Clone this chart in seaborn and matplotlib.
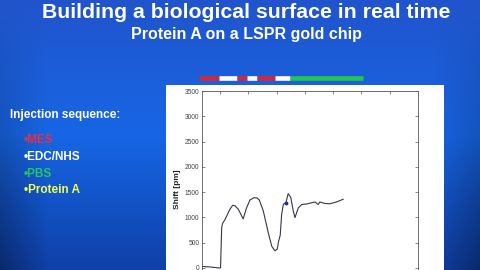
import numpy as np
import pandas as pd
import matplotlib
matplotlib.use("Agg")
import matplotlib.pyplot as plt
import seaborn as sns
from matplotlib.patches import Rectangle

# ---- data ----
time_min = [3.75, 6.5, 9.8, 10.2, 10.6, 10.9, 11.8, 13.5, 14.5, 15.3, 16.5, 17.4, 18.2,
            19.4, 20.6, 22.0, 23.1, 23.9, 25.3, 27.1, 28.3, 29.4, 30.25, 30.7, 31.3,
            31.8, 32.4, 33.3, 34.1, 35.0, 35.9, 36.5, 37.7, 38.9, 40.6, 42.4, 43.6,
            44.7, 45.3, 47.1, 48.9, 51.2, 53.6]
shift_pm = [30, 20, 0, 5, 800, 880, 960, 1160, 1240, 1230, 1160, 1060, 970,
            1190, 1345, 1390, 1385, 1345, 1130, 690, 430, 340, 375, 520, 650,
            1060, 1260, 1290, 1470, 1400, 1130, 995, 1190, 1255, 1265, 1290, 1305,
            1255, 1305, 1275, 1270, 1305, 1360]
y_ticks = [0, 500, 1000, 1500, 2000, 2500, 3000, 3500]
x_ticks = [10, 20, 30, 40, 50, 60, 70]

# injection sequence bar (time segments)
seg_start = [2.7, 9.8, 16.1, 19.4, 23.0, 29.4, 34.7]
seg_end = [9.8, 16.1, 19.4, 23.0, 29.4, 34.7, 60.4]
seg_step = ["MES", "EDC/NHS", "MES", "EDC/NHS", "MES", "EDC/NHS", "PBS"]

legend_labels = ["•MES", "•EDC/NHS", "•PBS", "•Protein A"]
step_colors = {"MES": "#d0283c", "EDC/NHS": "#ffffff", "PBS": "#22c84a"}
legend_colors = ["#e83048", "#ffffff", "#22c860", "#eeff55"]

df = pd.DataFrame({"t": time_min, "shift": shift_pm})

W, H = 480, 270
fig = plt.figure(figsize=(W / 100, H / 100), dpi=100)

# background gradient
bg = fig.add_axes([0, 0, 1, 1], zorder=-10)
ys = np.linspace(0, 1, 200)[:, None]
xs = np.linspace(0, 1, 200)[None, :]
top = np.array([0.13, 0.33, 0.80])
mid = np.array([0.09, 0.40, 0.90])
bot = np.array([0.06, 0.25, 0.66])
w = np.clip(ys, 0, 1)
col = np.where(w[..., None] < 0.5,
               top + (mid - top) * (w[..., None] / 0.5),
               mid + (bot - mid) * ((w[..., None] - 0.5) / 0.5))
col = col * np.ones((200, 200, 1))
edge = 1 - 0.35 * (np.clip(np.abs(xs - 0.5) * 2 - 0.8, 0, 1) / 0.2)[..., None] * w[..., None]
col = np.clip(col * edge, 0, 1)
bg.imshow(col, aspect="auto", extent=[0, 1, 1, 0])
bg.set_xlim(0, 1); bg.set_ylim(1, 0)
bg.axis("off")

# white panel
fig.patches.append(Rectangle((166 / W, 0), (444 - 166) / W, 1 - 85 / H,
                             transform=fig.transFigure, facecolor="white",
                             edgecolor="none", zorder=-5))

# title texts
fig.text(246 / W, 1 - 13 / H, "Building a biological surface in real time",
         ha="center", va="center", color="white", fontsize=15.3,
         fontweight="bold", family="Liberation Sans")
fig.text(246 / W, 1 - 34 / H, "Protein A on a LSPR gold chip",
         ha="center", va="center", color="white", fontsize=11.5,
         fontweight="bold", family="Liberation Sans")
fig.text(10 / W, 1 - 115 / H, "Injection sequence:", ha="left", va="center",
         color="white", fontsize=8.5, fontweight="bold", family="Liberation Sans")
for i, (lab, c) in enumerate(zip(legend_labels, legend_colors)):
    fig.text(24 / W, 1 - (140 + i * 16.8) / H, lab, ha="left", va="center",
             color=c, fontsize=8.5, fontweight="bold", family="Liberation Sans")

# axes
sns.set_style("white")
bottom_px = 288.2
ax = fig.add_axes([202.3 / W, 1 - bottom_px / H, (417.7 - 202.3) / W, (bottom_px - 91) / H])
ax.patch.set_alpha(0)
sns.lineplot(data=df, x="t", y="shift", ax=ax, color="#34364a", lw=0.8,
             estimator=None, sort=False)
ax.plot([33.2], [1285], marker="o", ms=1.8, color="#2030a0")
ax.set_xlim(3.75, 79.9)
ax.set_ylim(-400, 3500)
ax.set_yticks(y_ticks)
ax.set_xticks(x_ticks)
ax.set_yticklabels([str(v) for v in y_ticks], fontsize=4.8, color="#444444",
                   family="Liberation Sans")
ax.tick_params(axis="both", direction="in", length=2.5, width=0.5, color="#555555",
               top=True, right=True, bottom=True, left=True, pad=2)
ax.tick_params(axis="x", labelbottom=False)
ax.set_xlabel("")
ax.set_ylabel("Shift [pm]", fontsize=6, fontweight="bold", color="#222222",
              family="Liberation Sans", labelpad=3)
for s in ax.spines.values():
    s.set_color("#555555")
    s.set_linewidth(0.6)

# injection bar above plot
bar_y = (bottom_px - 78) / (bottom_px - 91)
trans = ax.get_xaxis_transform()
for x0, x1, st in zip(seg_start, seg_end, seg_step):
    ax.plot([x0, x1], [bar_y, bar_y], transform=trans, color=step_colors[st],
            lw=3.3, solid_capstyle="butt", clip_on=False)

fig.savefig("out.png", dpi=100)
